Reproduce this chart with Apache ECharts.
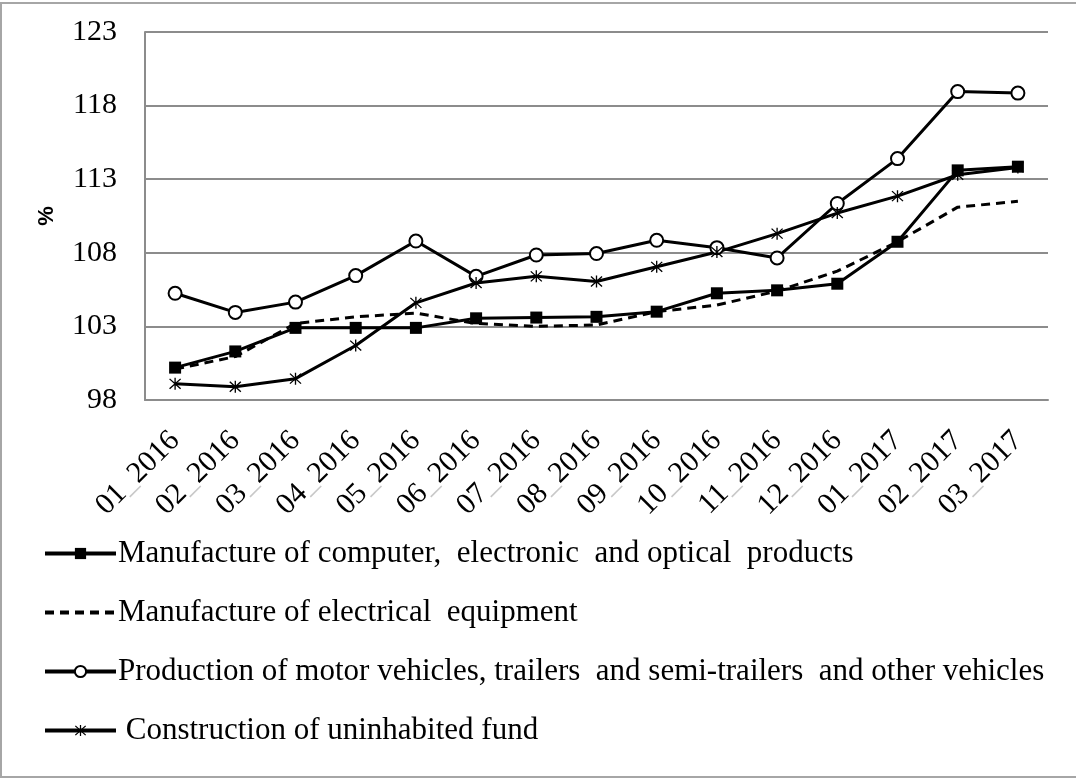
<!DOCTYPE html>
<html>
<head>
<meta charset="utf-8">
<script src="https://cdn.jsdelivr.net/npm/echarts@6/dist/echarts.min.js"></script>
<style>
  html, body { margin: 0; padding: 0; background: #fff; }
  #chart { width: 1076px; height: 781px; }
</style>
</head>
<body>
<div id="chart"></div>
<script>
// months on the x axis
const months = ['01_2016', '02_2016', '03_2016', '04_2016', '05_2016', '06_2016', '07_2016', '08_2016',
  '09_2016', '10_2016', '11_2016', '12_2016', '01_2017', '02_2017', '03_2017'];

const seriesNames = [
  'Manufacture of computer,  electronic  and optical  products',
  'Manufacture of electrical  equipment',
  'Production of motor vehicles, trailers  and semi-trailers  and other vehicles',
  ' Construction of uninhabited fund'
];

// values, %
const computers = [100.2, 101.3, 102.9, 102.9, 102.9, 103.55, 103.6, 103.65, 104.0, 105.25, 105.45, 105.9, 108.75, 113.6, 113.85];
const electrical = [100.1, 100.95, 103.2, 103.65, 103.9, 103.2, 103.0, 103.1, 104.0, 104.45, 105.4, 106.75, 108.75, 111.1, 111.5];
const vehicles = [105.25, 103.95, 104.65, 106.45, 108.8, 106.4, 107.85, 107.95, 108.85, 108.35, 107.65, 111.35, 114.4, 118.95, 118.85];
const construction = [99.1, 98.9, 99.45, 101.7, 104.6, 105.95, 106.4, 106.05, 107.05, 108.05, 109.3, 110.7, 111.85, 113.3, 113.8];

const yTicks = { min: 98, max: 123, step: 5 };

// asterisk marker made of three thin bars
const star = 'path://M9,0L11,0L11,20L9,20Z M1,2.4L2.4,1L19,17.6L17.6,19Z M17.6,1L19,2.4L2.4,19L1,17.6Z';

const serif = 'Liberation Serif';

function lineSeries(name, data, symbol, size, opts) {
  return Object.assign({
    name,
    type: 'line',
    data,
    symbol,
    symbolSize: size,
    showAllSymbol: true,
    lineStyle: { color: '#000', width: 3 },
    itemStyle: { color: '#000' },
    animation: false
  }, opts || {});
}

const chart = echarts.init(document.getElementById('chart'));
chart.setOption({
  animation: false,
  graphic: [{
    type: 'rect',
    shape: { x: 1, y: 3, width: 1080, height: 774 },
    style: { fill: 'none', stroke: '#a6a6a6', lineWidth: 2 },
    silent: true
  }],
  grid: { left: 145, right: 28, top: 32, bottom: 381 },
  legend: {
    orient: 'vertical',
    left: 38,
    top: 533,
    itemWidth: 71,
    itemHeight: 14,
    itemGap: 28,
    lineStyle: { width: 4, color: '#000' },
    textStyle: { fontFamily: serif, fontSize: 31, color: '#000', padding: [0, 0, 0, -3] },
    data: [
      seriesNames[0],
      { name: seriesNames[1], itemStyle: { opacity: 0 } },
      seriesNames[2],
      seriesNames[3]
    ]
  },
  xAxis: {
    type: 'category',
    data: months,
    boundaryGap: true,
    axisLine: { lineStyle: { color: '#8c8c8c', width: 2 } },
    axisTick: { show: false },
    axisLabel: {
      rotate: 45,
      interval: 0,
      margin: 36,
      fontFamily: serif,
      fontSize: 30,
      color: '#000',
      formatter: function (v) {
        const p = v.split('_');
        return '{t|' + p[0] + '}{u|_}{t|' + p[1] + '}';
      },
      rich: {
        t: { fontFamily: serif, fontSize: 30, color: '#000' },
        u: { fontFamily: serif, fontSize: 30, color: '#c8c8c8' }
      }
    }
  },
  yAxis: {
    type: 'value',
    min: yTicks.min,
    max: yTicks.max,
    interval: yTicks.step,
    name: '%',
    nameLocation: 'middle',
    nameRotate: 90,
    nameGap: 87,
    nameTextStyle: { fontFamily: 'Liberation Sans', fontWeight: 'bold', fontSize: 22, color: '#000' },
    axisLine: { show: true, lineStyle: { color: '#8c8c8c', width: 2 } },
    axisTick: { show: false },
    axisLabel: { margin: 28, fontFamily: serif, fontSize: 30, color: '#000' },
    splitLine: { lineStyle: { color: '#8c8c8c', width: 2 } }
  },
  series: [
    lineSeries(seriesNames[0], computers, 'rect', 12),
    lineSeries(seriesNames[1], electrical, 'none', 0, {
      lineStyle: { color: '#000', width: 3, type: [9, 6] }
    }),
    lineSeries(seriesNames[2], vehicles, 'circle', 13, {
      itemStyle: { color: '#fff', borderColor: '#000', borderWidth: 2 }
    }),
    lineSeries(seriesNames[3], construction, star, 12)
  ]
});
</script>
</body>
</html>
